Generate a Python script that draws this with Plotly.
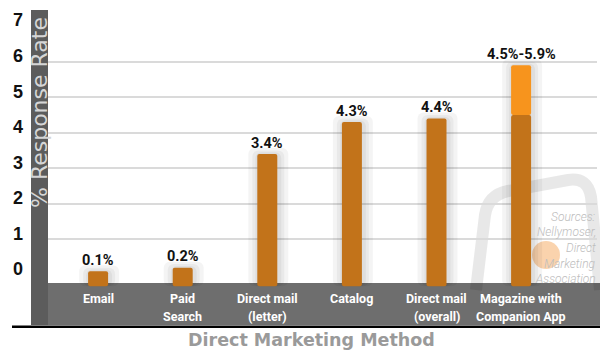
import plotly.graph_objects as go

# ---------------- data ----------------
categories = ["Email", "Paid Search", "Direct mail (letter)", "Catalog",
              "Direct mail (overall)", "Magazine with Companion App"]
category_labels = ["Email", "Paid<br>Search", "Direct mail<br>(letter)", "Catalog",
                   "Direct mail<br>(overall)", "Magazine with<br>Companion App"]
rate_low = [0.1, 0.2, 3.4, 4.3, 4.4, 4.5]
rate_high = [None, None, None, None, None, 5.9]
value_labels = ["0.1%", "0.2%", "3.4%", "4.3%", "4.4%", "4.5%-5.9%"]
y_tick_vals = [0, 1, 2, 3, 4, 5, 6, 7]
grid_vals = [1, 2, 3, 4, 5, 6]
y_title = "% Response Rate"
x_title = "Direct Marketing Method"
source_lines = ["Sources:", "Nellymoser,", "Direct", "Marketing", "Association"]

# ---------------- layout geometry (pixels) ----------------
W, H = 600, 354
L, R, T, B = 48, 597, 10, 325
PX_PER_UNIT = 35.52
ZERO_PX = 274.8
Y_RANGE = [-(B - ZERO_PX) / PX_PER_UNIT, (ZERO_PX - T) / PX_PER_UNIT]
CAT_PX0, CAT_STEP = 98.1, 84.6
X_RANGE = [(L - CAT_PX0) / CAT_STEP, (R - CAT_PX0) / CAT_STEP]
BAR_W = 20 / CAT_STEP
BASE = -0.32
BAND_TOP_PX = 283


def px_x(p):
    return (p - L) / (R - L)


def px_y(p):
    return (B - p) / (B - T)


def val_of_px(p):
    return (ZERO_PX - p) / PX_PER_UNIT


DARK_ORANGE = "#c2731a"
BRIGHT_ORANGE = "#f7941d"
FONT_B = "Roboto, Liberation Sans, sans-serif"

tops = [h if h is not None else l for l, h in zip(rate_low, rate_high)]

fig = go.Figure()

# soft shadows behind bars
for grow in [10, 6, 3]:
    fig.add_trace(go.Bar(
        x=categories,
        y=[t - BASE + grow * 0.6 / PX_PER_UNIT for t in tops],
        base=BASE,
        width=BAR_W + 2 * grow / CAT_STEP,
        offset=-(BAR_W + 2 * grow / CAT_STEP) / 2 + 1 / CAT_STEP,
        marker=dict(color="rgba(0,0,0,0.045)", line=dict(width=0), cornerradius=6),
        hoverinfo="skip", showlegend=False,
    ))

# main bars
fig.add_trace(go.Bar(
    x=categories,
    y=[v - BASE for v in rate_low],
    base=BASE,
    width=BAR_W,
    marker=dict(color=DARK_ORANGE, line=dict(width=0), cornerradius=2),
    showlegend=False,
))

# range part (upper) of magazine bar
hx = [c for c, h in zip(categories, rate_high) if h is not None]
hb = [l for l, h in zip(rate_low, rate_high) if h is not None]
hh = [h - l for l, h in zip(rate_low, rate_high) if h is not None]
fig.add_trace(go.Bar(
    x=hx, y=hh, base=hb, width=BAR_W,
    marker=dict(color=BRIGHT_ORANGE, line=dict(width=0), cornerradius=2),
    showlegend=False,
))

shapes = []
# horizontal gray band
shapes.append(dict(type="rect", xref="paper", yref="paper",
                   x0=0, x1=px_x(W), y0=0, y1=px_y(BAND_TOP_PX),
                   fillcolor="#6e6e6e", line=dict(width=0), layer="below"))
# vertical dark band (y-title)
shapes.append(dict(type="rect", xref="paper", yref="paper",
                   x0=px_x(31), x1=0, y0=0, y1=1,
                   fillcolor="#5c5c5c", line=dict(width=0), layer="below"))
# black base line
shapes.append(dict(type="line", xref="paper", yref="paper",
                   x0=px_x(12), x1=px_x(W), y0=px_y(326.8), y1=px_y(326.8),
                   line=dict(color="#000000", width=2.5)))

# watermark outline
wm_pts = [("M", 476, 290), ("L", 485, 215), ("Q", 488, 195, 508, 191),
          ("L", 568, 180), ("Q", 588, 177, 591, 197), ("L", 600, 290)]
parts = []
for seg in wm_pts:
    cmd = seg[0]
    coords = seg[1:]
    cs = []
    for i in range(0, len(coords), 2):
        cs.append(f"{px_x(coords[i]):.4f},{px_y(coords[i+1]):.4f}")
    parts.append(cmd + " " + " ".join(cs))
shapes.append(dict(type="path", xref="paper", yref="paper", path=" ".join(parts),
                   line=dict(color="rgba(0,0,0,0.09)", width=12), layer="below"))
# watermark orange circle
shapes.append(dict(type="circle", xref="paper", yref="paper",
                   x0=px_x(532), x1=px_x(560), y0=px_y(269), y1=px_y(241),
                   fillcolor="rgba(244,150,60,0.42)", line=dict(width=0), layer="below"))

annotations = []
# value labels
for c, t, lab in zip(categories, tops, value_labels):
    annotations.append(dict(x=c, y=t, xref="x", yref="y", text=f"<b>{lab}</b>",
                            showarrow=False, yanchor="middle", yshift=11,
                            font=dict(family=FONT_B, size=14.5, color="#111111")))
# category labels in band (one annotation per line)
for c, lab in zip(categories, category_labels):
    for i, line in enumerate(lab.split("<br>")):
        annotations.append(dict(x=c, y=val_of_px(BAND_TOP_PX), xref="x", yref="y",
                                text=f"<b>{line}</b>", showarrow=False,
                                yanchor="middle", yshift=-15.5 - 17.5 * i,
                                font=dict(family=FONT_B, size=12.5, color="#ffffff")))
# y-title
annotations.append(dict(x=px_x(40), y=px_y(113), xref="paper", yref="paper",
                        text=y_title, textangle=-90, showarrow=False,
                        xanchor="center", yanchor="middle",
                        font=dict(family="DejaVu Sans", size=22, color="#d6d6d6")))
# x-title
annotations.append(dict(x=px_x(311), y=px_y(340), xref="paper", yref="paper",
                        text=f"<b>{x_title}</b>", showarrow=False,
                        xanchor="center", yanchor="middle",
                        font=dict(family="DejaVu Sans", size=17.5, color="#9a9a9a")))
# sources watermark text
for i, line in enumerate(source_lines):
    annotations.append(dict(x=px_x(598), y=px_y(217 + i * 15.5), xref="paper", yref="paper",
                            text=f"<i>{line}</i>", showarrow=False,
                            xanchor="right", yanchor="middle",
                            font=dict(family="Roboto", size=12, color="#bdbdbd", weight=300)))

fig.update_layout(
    width=W, height=H,
    margin=dict(l=L, r=W - R, t=T, b=H - B, pad=0),
    paper_bgcolor="#ffffff", plot_bgcolor="#ffffff",
    barmode="overlay",
    showlegend=False,
    shapes=shapes,
    annotations=annotations,
    xaxis=dict(range=X_RANGE, showgrid=False, zeroline=False, showticklabels=False,
               showline=False, ticks="", fixedrange=True),
    yaxis=dict(range=Y_RANGE, tickmode="array", tickvals=y_tick_vals,
               ticktext=[str(v) for v in y_tick_vals],
               showgrid=False, zeroline=False, showline=False, ticks="",
               ticklabelshift=-6, ticklabelstandoff=24,
               tickfont=dict(family="Liberation Sans, Arial, sans-serif", size=18,
                             color="#111111", weight="bold"),
               minor=dict(tickmode="array", tickvals=grid_vals, showgrid=True,
                          gridcolor="#dadada", gridwidth=1.5, ticks=""),
               fixedrange=True),
)

fig.write_html("out.html")
